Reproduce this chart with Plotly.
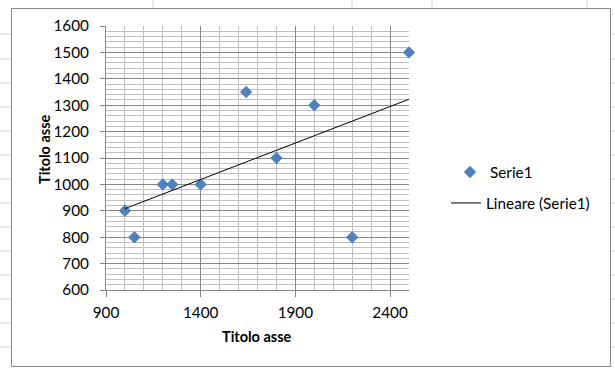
import numpy as np
import plotly.graph_objects as go

# Data
x_vals = [1000, 1050, 1200, 1250, 1400, 1640, 1800, 2000, 2200, 2500]
y_vals = [900, 800, 1000, 1000, 1000, 1350, 1100, 1300, 800, 1500]
series_name = "Serie1"
trend_name = "Lineare (Serie1)"
x_title = "Titolo asse"
y_title = "Titolo asse"

# Linear trendline (least squares fit of the series)
slope, intercept = np.polyfit(x_vals, y_vals, 1)
trend_x = [min(x_vals), max(x_vals)]
trend_y = [slope * v + intercept for v in trend_x]

W, H = 615, 368
L, R, T, B = 106, 206, 26, 78
PW, PH = W - L - R, H - T - B


def px(xp):
    return (xp - L) / PW


def py(yp):
    return (H - B - yp) / PH


FONT = "Lato"
FS = 15.3
FT = 14.5

fig = go.Figure()
fig.add_trace(go.Scatter(
    x=x_vals, y=y_vals, mode="markers", name=series_name,
    marker=dict(symbol="diamond", size=9.5, color="#4F81BD"),
    legend="legend", cliponaxis=False,
))
fig.add_trace(go.Scatter(
    x=trend_x, y=trend_y, mode="lines", name=trend_name,
    line=dict(color="#000000", width=1),
    legend="legend2",
))

shapes = []
cell = "#D4D4D4"
# Spreadsheet cell lines visible around the chart
for yy in [34, 59, 83, 107, 131, 155, 179, 203, 227, 251, 275, 299, 323, 347]:
    shapes.append(dict(type="line", xref="paper", yref="paper", layer="below",
                       x0=px(0), x1=px(11), y0=py(yy), y1=py(yy),
                       line=dict(color=cell, width=1)))
    shapes.append(dict(type="line", xref="paper", yref="paper", layer="below",
                       x0=px(611), x1=px(615), y0=py(yy), y1=py(yy),
                       line=dict(color=cell, width=1)))
for xx in [153, 352, 432, 587]:
    shapes.append(dict(type="line", xref="paper", yref="paper", layer="below",
                       x0=px(xx), x1=px(xx), y0=py(0), y1=py(8),
                       line=dict(color=cell, width=1)))
# Chart border
shapes.append(dict(type="rect", xref="paper", yref="paper", layer="below",
                   x0=px(11.5), x1=px(610.5), y0=py(8.5), y1=py(366.5),
                   line=dict(color="#898989", width=1), fillcolor="white"))

fig.update_layout(
    width=W, height=H,
    margin=dict(l=L, r=R, t=T, b=B),
    paper_bgcolor="white", plot_bgcolor="white",
    font=dict(family=FONT, size=FS, color="#000000"),
    showlegend=True,
    legend=dict(x=px(450), y=py(172), xanchor="left", yanchor="middle",
                bgcolor="rgba(0,0,0,0)", font=dict(size=FS)),
    legend2=dict(x=px(446), y=py(203), xanchor="left", yanchor="middle",
                 bgcolor="rgba(0,0,0,0)", font=dict(size=FS)),
    shapes=shapes,
    annotations=[
        dict(text=f"<b>{x_title}</b>", xref="paper", yref="paper",
             x=px(257), y=py(336), showarrow=False,
             xanchor="center", yanchor="middle", font=dict(size=FT)),
        dict(text=f"<b>{y_title}</b>", xref="paper", yref="paper",
             x=px(44), y=py(149), showarrow=False, textangle=-90,
             xanchor="center", yanchor="middle", font=dict(size=FT)),
    ],
)

fig.update_xaxes(
    range=[900, 2500], tick0=900, dtick=500,
    showgrid=True, gridcolor="#868686", gridwidth=1,
    minor=dict(dtick=100, showgrid=True, gridcolor="#BFBFBF", gridwidth=1),
    showline=True, linecolor="#868686", linewidth=1,
    ticks="outside", ticklen=6, tickcolor="#868686",
    ticklabelstandoff=3,
    zeroline=False, fixedrange=True,
)
fig.update_yaxes(
    range=[600, 1600], tick0=600, dtick=100,
    showgrid=True, gridcolor="#868686", gridwidth=1,
    minor=dict(dtick=20, showgrid=True, gridcolor="#BFBFBF", gridwidth=1),
    showline=True, linecolor="#868686", linewidth=1,
    ticks="outside", ticklen=5, tickcolor="#868686",
    ticklabelstandoff=8,
    zeroline=False, fixedrange=True,
)

fig.write_html("out.html", config=dict(displayModeBar=False))
